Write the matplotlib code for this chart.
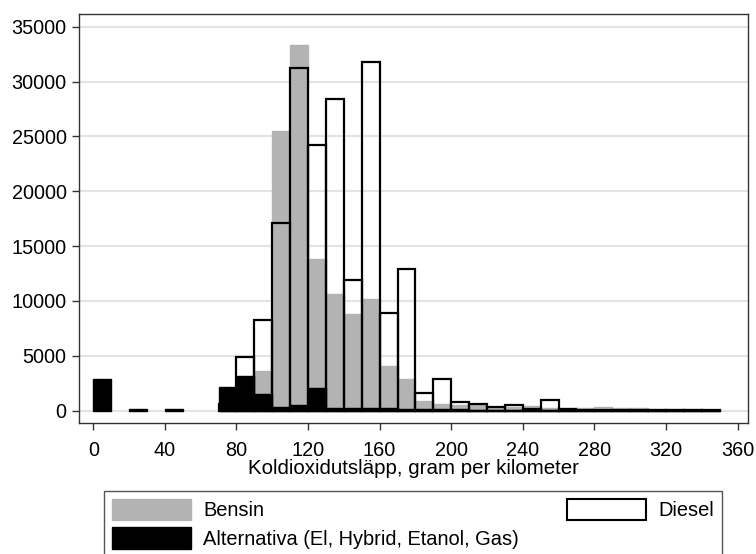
import numpy as np
import matplotlib
matplotlib.use('Agg')
import matplotlib.pyplot as plt
from matplotlib.patches import Patch

plt.rcParams['font.family'] = ['Liberation Sans', 'DejaVu Sans']

# histogram bins of 10 g/km, left edges 0..340
bin_start = np.arange(0, 350, 10)
bensin = [0, 0, 0, 0, 0, 0, 0, 200, 1500, 3600, 25450, 33300, 13800, 10600, 8800,
          10200, 4050, 2850, 900, 650, 520, 500, 250, 350, 400, 220, 220, 280, 330,
          280, 220, 180, 150, 120, 100]
diesel = [0, 0, 0, 0, 0, 0, 0, 600, 4900, 8300, 17100, 31250, 24200, 28400, 11950,
          31750, 8900, 12950, 1600, 2900, 750, 650, 300, 480, 180, 940, 150, 100, 90,
          80, 70, 60, 50, 40, 40]
alternativa = [2850, 0, 150, 0, 150, 0, 0, 2150, 3150, 1500, 380, 520, 2090, 200, 250,
               250, 200, 150, 150, 120, 120, 100, 100, 100, 100, 100, 80, 80, 80,
               70, 70, 60, 60, 60, 60]

x_ticks = np.arange(0, 361, 40)
y_ticks = np.arange(0, 35001, 5000)
labels = ['Bensin', 'Alternativa (El, Hybrid, Etanol, Gas)', 'Diesel']

GRAY = '#b3b3b3'
FS = 14.3

fig = plt.figure(figsize=(7.56, 5.54), dpi=100)
ax = fig.add_axes([0.1049, 0.2359, 0.8849, 0.7397])


def draw(vals, **kw):
    vals = np.asarray(vals, dtype=float)
    m = vals > 0  # empty bins get no outline
    ax.bar(bin_start[m], vals[m], width=10, align='edge', **kw)


draw(bensin, color=GRAY, edgecolor=GRAY, linewidth=1, zorder=2)
draw(diesel, fill=False, edgecolor='black', linewidth=1.6, zorder=3)
draw(alternativa, color='black', edgecolor='black', linewidth=1, zorder=4)

ax.set_xlim(-7.8, 366)
ax.set_ylim(-1150, 36200)
ax.set_xticks(x_ticks)
ax.set_yticks(y_ticks)
ax.yaxis.grid(True, color='#e3e3e3', linewidth=1.5)
ax.set_axisbelow(True)
ax.tick_params(axis='both', labelsize=FS, length=5.3, width=1, color='#333333')
ax.tick_params(axis='x', pad=7.7)
ax.tick_params(axis='y', pad=3.8)
for s in ax.spines.values():
    s.set_color('#333333')
    s.set_linewidth(1)
ax.set_xlabel('Koldioxidutsläpp, gram per kilometer', fontsize=14.8, labelpad=-0.8)

handles = [Patch(facecolor=GRAY, edgecolor=GRAY),
           Patch(facecolor='black', edgecolor='black'),
           Patch(facecolor='white', edgecolor='black', linewidth=1.5)]
leg = fig.legend(handles, labels, ncol=2, loc='upper left',
                 bbox_to_anchor=(0.1379, 0.1143), borderaxespad=0,
                 fontsize=14.4, handlelength=3.92, handleheight=1.25, handletextpad=0.62,
                 columnspacing=2.42, borderpad=0.4, labelspacing=0.375,
                 fancybox=False, framealpha=1)
leg.get_frame().set_edgecolor('#555555')
leg.get_frame().set_linewidth(1)

fig.savefig('out.png', dpi=100)
